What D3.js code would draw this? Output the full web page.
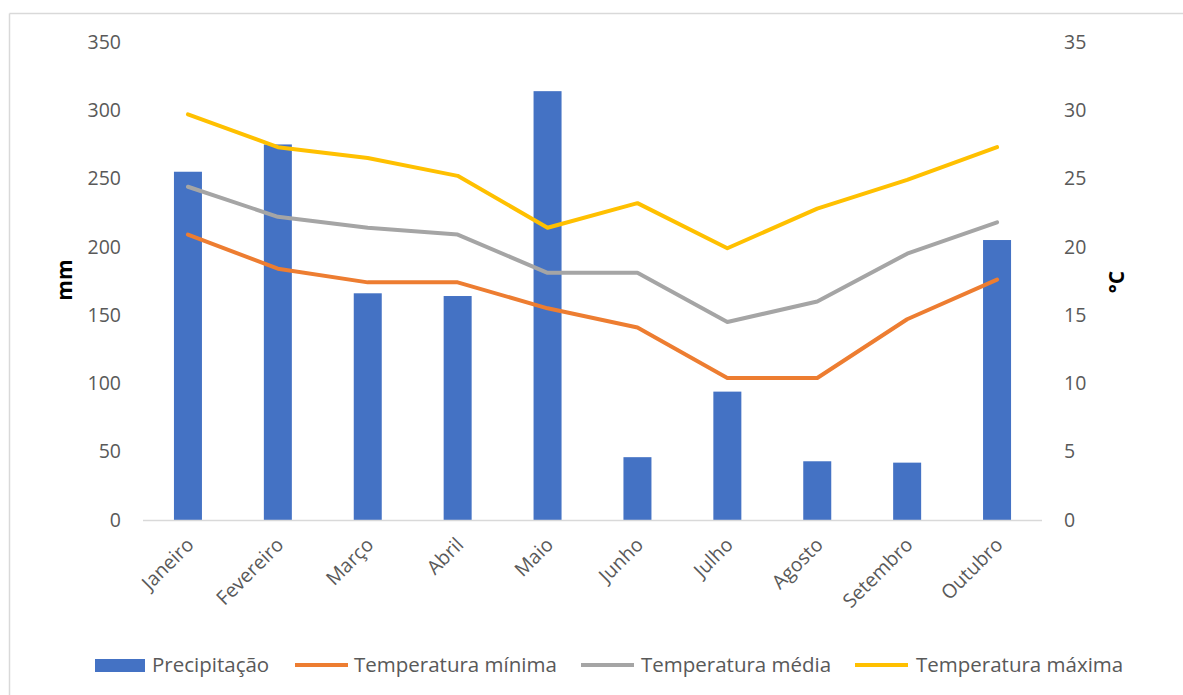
<!DOCTYPE html>
<html><head><meta charset="utf-8">
<script src="https://cdn.jsdelivr.net/npm/d3@7"></script>
<style>body{margin:0;background:#fff}svg{display:block}text{font-family:"Open Sans",sans-serif}</style>
</head><body>
<script>
const months = ["Janeiro","Fevereiro","Março","Abril","Maio","Junho","Julho","Agosto","Setembro","Outubro"];
const precipitacao = [255, 275, 166, 164, 314, 46, 94, 43, 42, 205];
const tempMin = [20.9, 18.4, 17.4, 17.4, 15.5, 14.1, 10.4, 10.4, 14.7, 17.6];
const tempMed = [24.4, 22.2, 21.4, 20.9, 18.1, 18.1, 14.5, 16.0, 19.5, 21.8];
const tempMax = [29.7, 27.3, 26.5, 25.2, 21.4, 23.2, 19.9, 22.8, 24.9, 27.3];
const mmTicks = [0,50,100,150,200,250,300,350];
const cTicks = [0,5,10,15,20,25,30,35];
const seriesNames = ["Precipitação","Temperatura mínima","Temperatura média","Temperatura máxima"];
const colors = ["#4472C4","#ED7D31","#A5A5A5","#FFC000"];

const W=1183,H=695;
const svg=d3.select("body").append("svg").attr("width",W).attr("height",H);
svg.append("rect").attr("width",W).attr("height",H).attr("fill","#fff");
svg.append("line").attr("x1",9.5).attr("x2",W).attr("y1",13.5).attr("y2",13.5).attr("stroke","#d9d9d9").attr("stroke-width",1.5);
svg.append("line").attr("x1",9.5).attr("x2",9.5).attr("y1",13.5).attr("y2",H).attr("stroke","#d9d9d9").attr("stroke-width",1.5);

const x=d3.scaleBand().domain(months).range([143,1042]);
const yL=d3.scaleLinear().domain([0,350]).range([520,42]);
const yR=d3.scaleLinear().domain([0,35]).range([520,42]);

const gl=svg.append("g").attr("transform","translate(121,0)")
 .call(d3.axisLeft(yL).tickValues(mmTicks).tickSize(0).tickPadding(0));
gl.select(".domain").remove();
gl.selectAll("text").attr("font-size",19.5).attr("fill","#595959").attr("font-family","Open Sans");
const gr=svg.append("g").attr("transform","translate(1064,0)")
 .call(d3.axisRight(yR).tickValues(cTicks).tickSize(0).tickPadding(0));
gr.select(".domain").remove();
gr.selectAll("text").attr("font-size",19.5).attr("fill","#595959").attr("font-family","Open Sans");

const bw=28;
svg.append("g").selectAll("rect").data(precipitacao).join("rect")
 .attr("x",(d,i)=>x(months[i])+x.bandwidth()/2-bw/2)
 .attr("width",bw)
 .attr("y",d=>yL(d)).attr("height",d=>yL(0)-yL(d))
 .attr("fill",colors[0]);

svg.append("line").attr("x1",143).attr("x2",1042).attr("y1",yL(0)+0.5).attr("y2",yL(0)+0.5).attr("stroke","#d9d9d9").attr("stroke-width",1.5);

svg.append("g").selectAll("text").data(months).join("text")
 .attr("transform",d=>`translate(${x(d)+x.bandwidth()/2+7},${546}) rotate(-45)`)
 .attr("text-anchor","end").attr("font-size",19.5).attr("fill","#595959").text(d=>d);

const line=d3.line().x((d,i)=>x(months[i])+x.bandwidth()/2).y(d=>yR(d));
[[tempMin,1],[tempMed,2],[tempMax,3]].forEach(([s,c])=>{
 svg.append("path").datum(s).attr("d",line).attr("fill","none")
  .attr("stroke",colors[c]).attr("stroke-width",4).attr("stroke-linejoin","round").attr("stroke-linecap","round");
});

svg.append("text").attr("transform","translate(72,280) rotate(-90)").attr("text-anchor","middle")
 .attr("font-size",21).attr("font-weight","bold").attr("fill","#000").text("mm");
svg.append("text").attr("transform","translate(1124,282) rotate(-90)").attr("text-anchor","middle")
 .attr("font-size",21).attr("font-weight","bold").attr("fill","#000").text("°C");

const legSym=[95,295,581,855];
const legTxt=[152,354,641,916];
const lg=svg.append("g");
seriesNames.forEach((n,i)=>{
 if(i===0) lg.append("rect").attr("x",legSym[i]).attr("y",659).attr("width",50).attr("height",13).attr("fill",colors[0]);
 else lg.append("line").attr("x1",legSym[i]).attr("x2",legSym[i]+53).attr("y1",665).attr("y2",665).attr("stroke",colors[i]).attr("stroke-width",4);
 lg.append("text").attr("x",legTxt[i]).attr("y",665).attr("dy","0.35em").attr("font-size",20.5).attr("fill","#595959").text(n);
});
</script>
</body></html>
